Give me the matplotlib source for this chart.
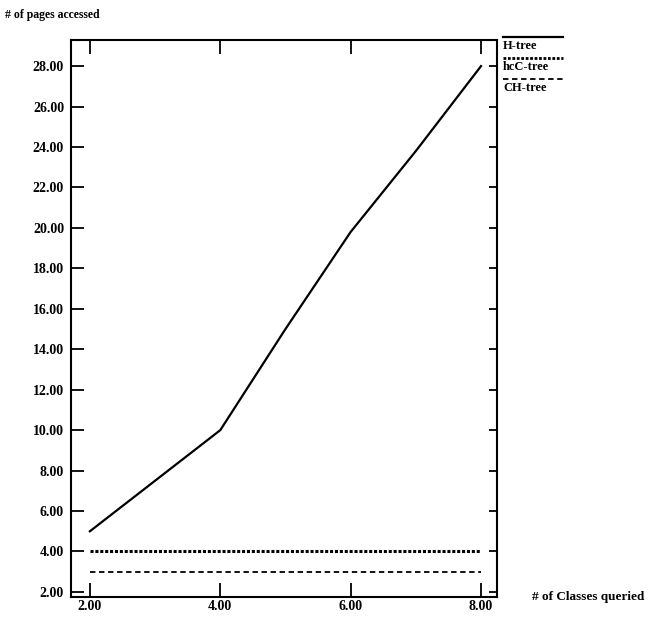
import numpy as np
import matplotlib.pyplot as plt
from matplotlib.lines import Line2D

plt.rcParams["font.family"] = ["Liberation Serif", "DejaVu Serif"]
plt.rcParams["font.weight"] = "bold"

# data
classes = [2, 3, 4, 5, 6, 7, 8]
h_tree = [5.0, 7.5, 10.0, 15.0, 19.8, 23.8, 28.0]
hcc_tree = [4.0, 4.0, 4.0, 4.0, 4.0, 4.0, 4.0]
ch_tree = [3.0, 3.0, 3.0, 3.0, 3.0, 3.0, 3.0]
xticks = [2, 4, 6, 8]
yticks = [2, 4, 6, 8, 10, 12, 14, 16, 18, 20, 22, 24, 26, 28]
labels = ["H-tree", "hcC-tree", "CH-tree"]

W, H = 657, 619
fig = plt.figure(figsize=(W/100, H/100), dpi=100)
# axes box: left 71, right 497, top 40, bottom 597 (pixels)
ax = fig.add_axes([71/W, (H-597)/H, 426/W, 557/H])

ax.plot(classes, h_tree, color="black", lw=1.6)
ax.plot(classes, hcc_tree, color="black", lw=2.2, linestyle=(0, (1, 0.6)))
ax.plot(classes, ch_tree, color="black", lw=1.3, linestyle=(0, (3, 2)))

ax.set_xlim(1.71, 8.245)
ax.set_ylim(1.75, 29.29)
ax.set_xticks(xticks)
ax.set_yticks(yticks)
ax.set_xticklabels(["%.2f" % v for v in xticks])
ax.set_yticklabels(["%.2f" % v for v in yticks])
ax.tick_params(direction="in", width=1.3, labelsize=10, top=True, right=True)
ax.tick_params(axis="x", length=10, pad=2)
ax.tick_params(axis="y", which="major", length=9, pad=5)
# right-side ticks are shorter in the original
for t in ax.yaxis.get_major_ticks():
    t.tick2line.set_markersize(6)
for s in ax.spines.values():
    s.set_linewidth(1.5)

fig.text(5/W, 1 - 15/H, "# of pages accessed", fontsize=8.5,
         fontweight="bold", va="center", ha="left")
fig.text(532/W, 1 - 597/H, "# of Classes queried", fontsize=9.5,
         fontweight="bold", va="center", ha="left")

# legend outside the axes, line drawn above each label
styles = [dict(lw=1.6), dict(lw=2.0, linestyle=(0, (1, 0.6))),
          dict(lw=1.3, linestyle=(0, (3, 2)))]
for i, (lab, st) in enumerate(zip(labels, styles)):
    ytop = 1 - (37 + i * 21) / H
    fig.add_artist(Line2D([503/W, 563/W], [ytop, ytop], color="black",
                          transform=fig.transFigure, **st))
    fig.text(503/W, ytop - 9/H, lab, fontsize=9, va="center", ha="left")

fig.savefig("out.png", dpi=100)
